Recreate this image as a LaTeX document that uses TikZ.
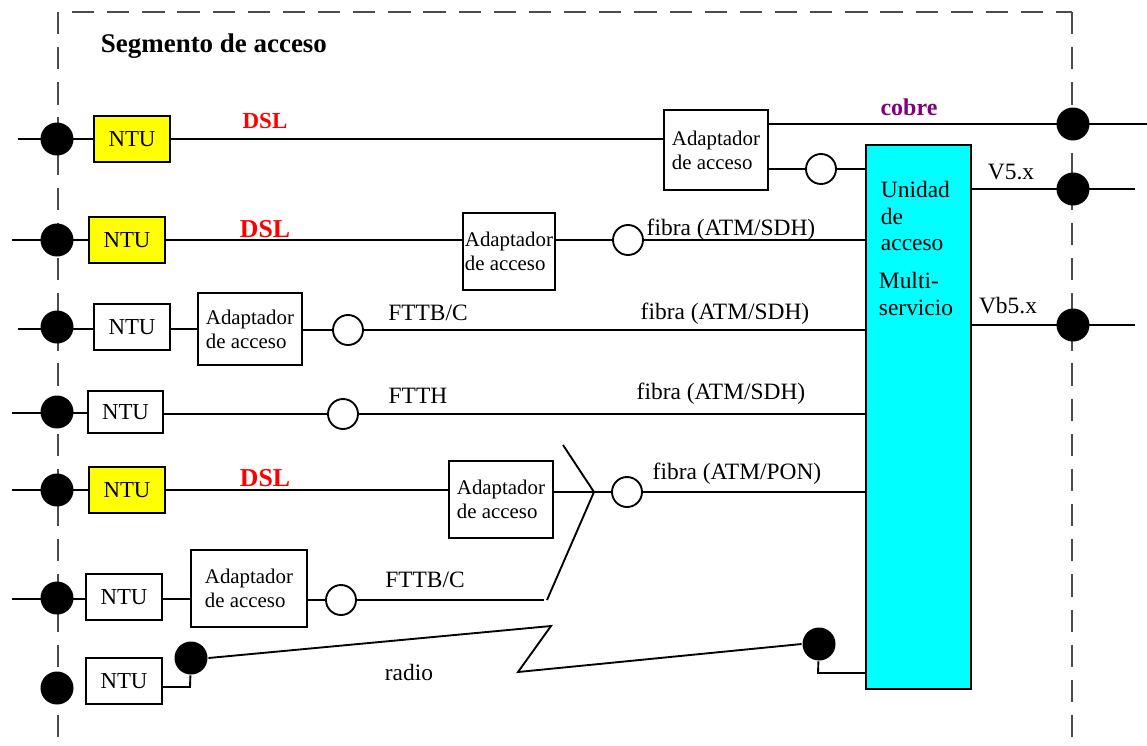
\documentclass[tikz,border=0pt]{standalone}
\usepackage{fontspec}
\setmainfont{Liberation Serif}
\usepackage{xcolor}
\usepackage{tikz}

\definecolor{amarillo}{HTML}{FFFF00}
\definecolor{cian}{HTML}{00FFFF}
\definecolor{morado}{HTML}{800080}
\definecolor{rojo}{HTML}{FF0000}

\begin{document}
\begin{tikzpicture}[x=0.03cm,y=-0.03cm,line width=1.6pt,
  caja/.style 2 args={draw,line width=1.6pt,inner sep=0pt,
    minimum width=#1*0.03cm,minimum height=#2*0.03cm},
  ntu/.style={caja={76}{46},font=\fontsize{19.5}{22}\selectfont},
  ntuam/.style={ntu,fill=amarillo},
  adapt/.style 2 args={caja={#1}{#2},align=left,
    font=\fontsize{17.8}{20.5}\selectfont},
  punto/.style={circle,fill=black,inner sep=0pt,minimum size=0.99cm},
  anillo/.style={circle,draw,fill=white,line width=1.6pt,inner sep=0pt,minimum size=0.9cm},
  etiq/.style={inner sep=0pt,font=\fontsize{20}{24}\selectfont},
  dsl/.style={inner sep=0pt,text=rojo,font=\bfseries\fontsize{22}{24}\selectfont},
  limite/.style={draw=black!70,line width=1.1pt,dash pattern=on 19pt off 11pt}
]
  \useasboundingbox (0,0) rectangle (1147,745);

  % limites del segmento
  \draw[limite] (58,12) -- (58,745);
  \draw[limite] (72,12) -- (1072,12);
  \draw[limite] (1072,12) -- (1072,745);
  \node[anchor=west,inner sep=0pt,font=\bfseries\fontsize{23}{26}\selectfont]
    (titulo) at (100,46) {Segmento de acceso};

  % unidad de acceso multiservicio
  \node[caja={105}{544},fill=cian] (u) at (918.5,417) {};
  \node[anchor=west,inner sep=0pt,align=left,font=\fontsize{20}{22.6}\selectfont]
    (utxt) at (880,216) {Unidad\\de\\acceso};
  \node[anchor=west,inner sep=0pt,align=left,font=\fontsize{20}{23}\selectfont]
    (mtxt) at (878,294) {Multi-\\servicio};

  % fila 1
  \coordinate (i1) at (18,139);
  \coordinate (o1) at (1147,124);
  \node[punto] (d1) at (57,139) {};
  \node[ntuam] (n1) at (132,139) {NTU};
  \node[adapt={104}{80}] (a1) at (716,150) {Adaptador\\de acceso};
  \node[anillo] (c1) at (821,169) {};
  \draw (i1) -- (n1.west |- i1);
  \draw (n1.east |- i1) -- (a1.west |- i1);
  \draw (a1.east |- o1) -- (o1);
  \draw (a1.east |- c1) -- (c1);
  \draw (c1) -- (c1 -| u.west);
  \node[punto] (e1) at (1073,124) {};
  \node[dsl,font=\bfseries\fontsize{19.6}{22}\selectfont] (dsl1) at (265,121) {DSL};
  \node[inner sep=0pt,text=morado,font=\bfseries\fontsize{20.5}{24}\selectfont]
    (cobre) at (909,107) {cobre};

  % salidas V5.x y Vb5.x
  \coordinate (o2) at (1135,189);
  \coordinate (o3) at (1135,325);
  \draw (u.east |- o2) -- (o2);
  \draw (u.east |- o3) -- (o3);
  \node[punto] (e2) at (1073,189) {};
  \node[punto] (e3) at (1073,325) {};
  \node[etiq] (v5) at (1011,172) {V5.x};
  \node[etiq] (vb5) at (1008,306) {Vb5.x};

  % fila 2
  \coordinate (i2) at (12,240);
  \node[punto] (d2) at (57,240) {};
  \node[ntuam] (n2) at (127,240) {NTU};
  \node[adapt={92}{77}] (a2) at (509,251.5) {Adaptador\\de acceso};
  \node[anillo] (c2) at (628,240) {};
  \draw (i2) -- (n2);
  \draw (n2.east) -- (a2.west |- i2);
  \draw (a2.east |- c2) -- (c2);
  \draw (c2) -- (c2 -| u.west);
  \node[dsl] (dsl2) at (265,229) {DSL};
  \node[etiq] (f2) at (731,230) {fibra (ATM/SDH)};

  % fila 3
  \coordinate (i3) at (18,329);
  \node[punto] (d3) at (57,327) {};
  \node[ntu] (n3) at (132,327) {NTU};
  \node[adapt={104}{72},line width=0.9pt] (a3) at (250,329) {Adaptador\\de acceso};
  \node[anillo] (c3) at (348,330) {};
  \draw (i3) -- (n3.west |- i3);
  \draw (n3.east |- i3) -- (a3.west |- i3);
  \draw (a3.east |- c3) -- (c3);
  \draw (c3) -- (c3 -| u.west);
  \node[etiq] (fttbc1) at (428,313) {FTTB/C};
  \node[etiq] (f3) at (725,314) {fibra (ATM/SDH)};

  % fila 4
  \coordinate (i4) at (12,413);
  \node[punto] (d4) at (57,412) {};
  \node[ntu,minimum width=2.25cm,minimum height=1.26cm] (n4) at (125.5,412) {NTU};
  \node[anillo] (c4) at (343,414) {};
  \draw (i4) -- (n4.west |- i4);
  \draw (n4.east |- c4) -- (c4);
  \draw (c4) -- (c4 -| u.west);
  \node[etiq] (ftth) at (418,396) {FTTH};
  \node[etiq] (f4) at (721,394) {fibra (ATM/SDH)};

  % fila 5
  \coordinate (i5) at (12,490);
  \coordinate (j5) at (594,492);
  \coordinate (s5) at (563,445);
  \coordinate (t5) at (547,600);
  \node[punto] (d5) at (57,490) {};
  \node[ntuam] (n5) at (127,490) {NTU};
  \node[adapt={104}{77}] (a5) at (501,499.5) {Adaptador\\de acceso};
  \node[anillo] (c5) at (627,492) {};
  \draw (i5) -- (n5);
  \draw (n5.east) -- (a5.west |- i5);
  \draw (a5.east |- j5) -- (j5) -- (c5);
  \draw (c5) -- (c5 -| u.west);
  \draw (s5) -- (j5) -- (t5);
  \node[dsl] (dsl5) at (265,478) {DSL};
  \node[etiq] (f5) at (737,474) {fibra (ATM/PON)};

  % fila 6
  \coordinate (i6) at (12,599);
  \coordinate (k6) at (544,600);
  \node[punto] (d6) at (57,598) {};
  \node[ntu] (n6) at (124,597) {NTU};
  \node[adapt={116}{77}] (a6) at (249,588.5) {Adaptador\\de acceso};
  \node[anillo] (c6) at (341,600) {};
  \draw (i6) -- (n6.west |- i6);
  \draw (n6.east |- i6) -- (a6.west |- i6);
  \draw (a6.east |- c6) -- (c6);
  \draw (c6) -- (k6);
  \node[etiq] (fttbc2) at (425,580) {FTTB/C};

  % fila 7 (radio)
  \coordinate (k7) at (190,687);
  \coordinate (z1) at (551,626);
  \coordinate (z2) at (518,672);
  \coordinate (k8) at (818,673);
  \node[punto] (d7) at (57,688) {};
  \node[ntu] (n7) at (124,681) {NTU};
  \node[punto] (r1) at (191,658) {};
  \node[punto] (r2) at (819,644) {};
  \draw (n7.east |- k7) -- (k7) -- (r1);
  \draw (r1.east) -- (z1) -- (z2) -- (r2.west);
  \draw (r2) -- (k8) -- (k8 -| u.west);
  \node[etiq] (radio) at (409,672) {radio};
\end{tikzpicture}
\end{document}
